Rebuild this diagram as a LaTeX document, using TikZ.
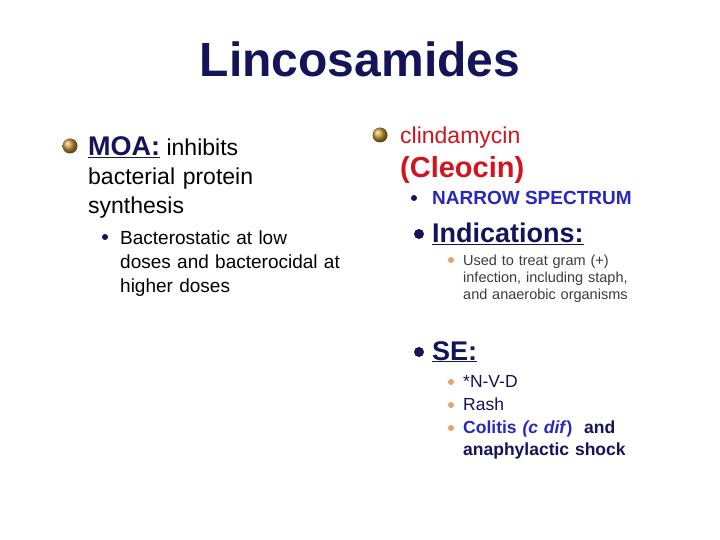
\documentclass[tikz,border=0pt]{standalone}
\usepackage{fontspec}
\setmainfont{Liberation Sans}
\definecolor{navy}{RGB}{20,20,90}
\definecolor{tred}{RGB}{210,20,30}
\definecolor{tblue}{RGB}{40,40,190}
\definecolor{tgray}{RGB}{60,60,60}
\definecolor{gold}{RGB}{200,150,50}
\definecolor{orng}{RGB}{235,160,110}
\begin{document}
\begin{tikzpicture}[x=1pt,y=-1pt,
  t/.style={anchor=base west,inner sep=0pt,align=left},
  ball/.style={shading=ball,ball color=gold,circle,inner sep=0pt,minimum size=15pt},
  nd/.style={fill=navy,circle,inner sep=0pt,minimum size=#1},
  od/.style={fill=orng,circle,inner sep=0pt,minimum size=6pt}]
\useasboundingbox (0,0) rectangle (720,540);
\fill[white] (0,0) rectangle (720,540);
\node[anchor=base,inner sep=0pt,text=navy,font=\fontsize{48}{50}\selectfont\bfseries] (title) at (360,77) {Lincosamides};
% left
\node[ball] (b1) at (70,146) {};
\node[t,font=\fontsize{23}{28}\selectfont] (moa) at (88,156) {\textcolor{navy}{\fontsize{27}{28}\selectfont\bfseries\underline{MOA:}} inhibits};
\node[t,font=\fontsize{23}{28}\selectfont,text width=220pt] (moa2) at (88,185) {bacterial protein\\[1pt]synthesis};
\node[nd=6pt] (d1) at (105,237) {};
\node[t,font=\fontsize{19}{24}\selectfont,text width=260pt] (bs) at (120,244) {Bacterostatic at low\\doses and bacterocidal at\\higher doses};
% right
\node[ball] (b2) at (380,135) {};
\node[t,text=tred,font=\fontsize{23}{26}\selectfont] (cl) at (400,144) {clindamycin};
\node[t,text=tred,font=\fontsize{29}{30}\selectfont\bfseries] (cle) at (400,178) {(Cleocin)};
\node[nd=6pt] (d2) at (414,198) {};
\node[t,text=tblue,font=\fontsize{19}{20}\selectfont\bfseries] (nar) at (432,205) {NARROW SPECTRUM};
\node[nd=10pt] (d3) at (419,234) {};
\node[t,text=navy,font=\fontsize{27}{30}\selectfont\bfseries] (ind) at (432,243) {\underline{Indications:}};
\node[od] (o1) at (451,260) {};
\node[t,text=tgray,font=\fontsize{14.5}{17.5}\selectfont,text width=230pt] (use) at (463,265) {Used to treat gram (+)\\infection, including staph,\\and anaerobic organisms};
\node[nd=10pt] (d4) at (419,352) {};
\node[t,text=navy,font=\fontsize{27}{30}\selectfont\bfseries] (se) at (432,360) {\underline{SE:}};
\node[od] (o2) at (451,382) {};
\node[t,text=navy,font=\fontsize{17.5}{20}\selectfont] (nvd) at (463,387) {*N-V-D};
\node[od] (o3) at (451,405) {};
\node[t,text=navy,font=\fontsize{17.5}{20}\selectfont] (rash) at (463,410) {Rash};
\node[od] (o4) at (451,428) {};
\node[t,text=navy,font=\fontsize{17.5}{22}\selectfont\bfseries,text width=240pt] (col) at (463,433) {\textcolor{tblue}{Colitis \textit{(c dif})} \ and\\anaphylactic shock};
\end{tikzpicture}
\end{document}
